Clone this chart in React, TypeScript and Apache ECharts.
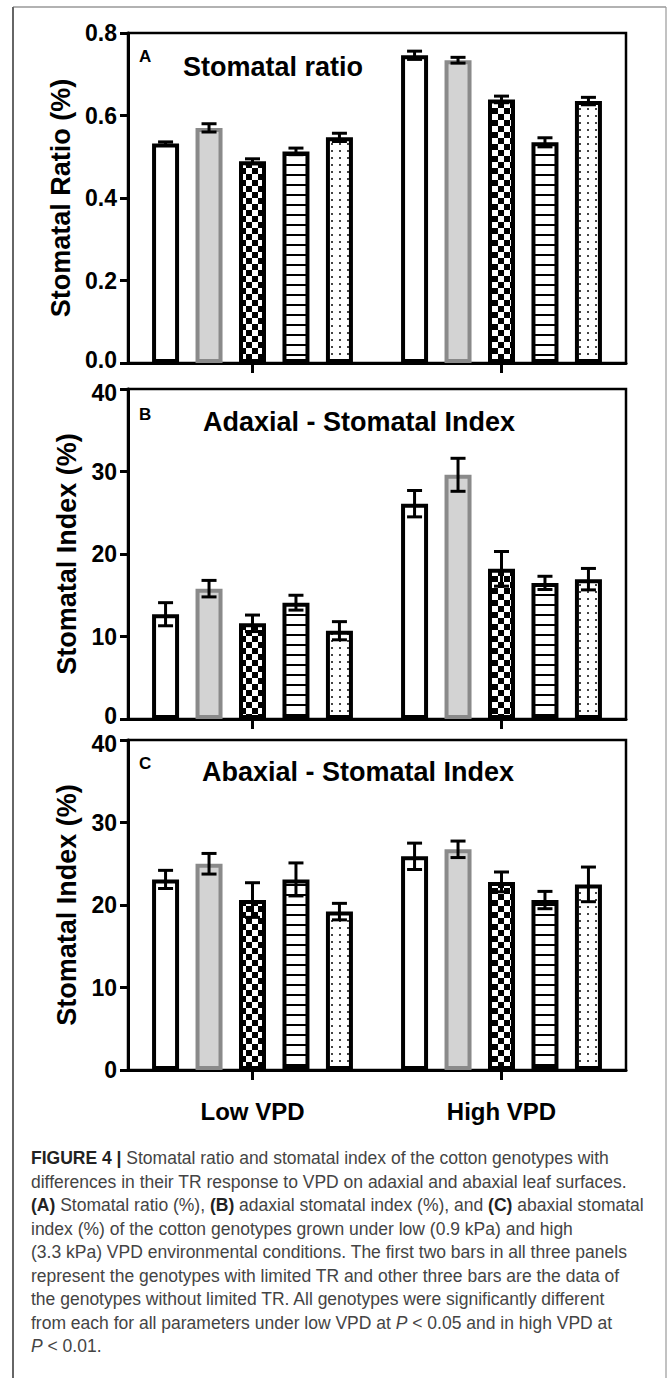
import React, { useEffect, useRef } from "react";
import * as echarts from "echarts";

const groups = ["Low VPD", "High VPD"];

// [low VPD, high VPD] for each of the 5 genotypes (bar order left to right)
const ratioMean = [
  [0.532, 0.746],
  [0.57, 0.734],
  [0.489, 0.639],
  [0.513, 0.535],
  [0.547, 0.635],
];
const ratioErr = [
  [0.004, 0.01],
  [0.01, 0.007],
  [0.006, 0.008],
  [0.008, 0.011],
  [0.01, 0.009],
];
const adaxialMean = [
  [12.7, 26.1],
  [15.8, 29.6],
  [11.6, 18.2],
  [14.1, 16.5],
  [10.7, 16.95],
];
const adaxialErr = [
  [1.4, 1.6],
  [1.0, 2.0],
  [1.0, 2.1],
  [0.9, 0.8],
  [1.1, 1.3],
];
const abaxialMean = [
  [23.1, 25.9],
  [25.0, 26.75],
  [20.6, 22.8],
  [23.1, 20.6],
  [19.2, 22.5],
];
const abaxialErr = [
  [1.1, 1.6],
  [1.25, 1.0],
  [2.1, 1.2],
  [2.0, 1.05],
  [1.0, 2.1],
];

const ratioTicks = { min: 0, max: 0.8, interval: 0.2 };
const indexTicks = { min: 0, max: 40, interval: 10 };

const panelTitles = ["Stomatal ratio", "Adaxial - Stomatal Index", "Abaxial - Stomatal Index"];
const panelLetters = ["A", "B", "C"];
const yNames = ["Stomatal Ratio (%)", "Stomatal Index (%)", "Stomatal Index (%)"];

const captionLines = [
  "{b|FIGURE 4 |} Stomatal ratio and stomatal index of the cotton genotypes with",
  "differences in their TR response to VPD on adaxial and abaxial leaf surfaces.",
  "{b|(A)} Stomatal ratio (%), {b|(B)} adaxial stomatal index (%), and {b|(C)} abaxial stomatal",
  "index (%) of the cotton genotypes grown under low (0.9 kPa) and high",
  "(3.3 kPa) VPD environmental conditions. The first two bars in all three panels",
  "represent the genotypes with limited TR and other three bars are the data of",
  "the genotypes without limited TR. All genotypes were significantly different",
  "from each for all parameters under low VPD at {i|P} < 0.05 and in high VPD at",
  "{i|P} < 0.01.",
];

const FONT = "'Liberation Sans', Arial, Helvetica, sans-serif";
const BAR_W = 27;
const BAR_GAP = 0.61;
const BAR_STEP = BAR_W * (1 + BAR_GAP);
const TICK_FS = 23;

function makePattern(w: number, h: number, draw: (ctx: CanvasRenderingContext2D) => void) {
  const c = document.createElement("canvas");
  c.width = w;
  c.height = h;
  const ctx = c.getContext("2d") as CanvasRenderingContext2D;
  ctx.fillStyle = "#ffffff";
  ctx.fillRect(0, 0, w, h);
  draw(ctx);
  return { image: c.toDataURL(), repeat: "repeat", imageWidth: w, imageHeight: h };
}

export default function App() {
  const ref = useRef<HTMLDivElement>(null);

  useEffect(() => {
    if (!ref.current) return;
    const chart = echarts.init(ref.current, undefined, { renderer: "svg" });

    const checker = makePattern(12, 12, (ctx) => {
      ctx.fillStyle = "#000";
      ctx.fillRect(0, 0, 6, 6);
      ctx.fillRect(6, 6, 6, 6);
    });
    const hlines = makePattern(8, 10, (ctx) => {
      ctx.fillStyle = "#000";
      ctx.fillRect(0, 4, 8, 2);
    });
    const dots = makePattern(8, 7, (ctx) => {
      ctx.fillStyle = "#444";
      ctx.fillRect(3, 3, 2, 2);
    });

    const fills: any[] = ["#ffffff", "#d3d3d3", checker, hlines, dots];
    const borders = ["#000", "#8a8a8a", "#000", "#000", "#000"];

    const labelBase = { fontSize: TICK_FS, fontWeight: "bold", fontFamily: FONT, color: "#000" };
    const edgeRich = {
      lo: { ...labelBase, padding: [0, 0, 7, 0] },
      hi: { ...labelBase, padding: [7, 0, 0, 0] },
    };

    const panels = [
      {
        mean: ratioMean,
        err: ratioErr,
        ticks: ratioTicks,
        top: 33,
        fmt: (v: number) => (v === 0 ? `{lo|${v.toFixed(1)}}` : v.toFixed(1)),
        gap: 53,
      },
      {
        mean: adaxialMean,
        err: adaxialErr,
        ticks: indexTicks,
        top: 389,
        fmt: (v: number) => (v === 0 ? `{lo|${v}}` : v === 40 ? `{hi|${v}}` : String(v)),
        gap: 44,
      },
      {
        mean: abaxialMean,
        err: abaxialErr,
        ticks: indexTicks,
        top: 740,
        fmt: (v: number) => (v === 40 ? `{hi|${v}}` : String(v)),
        gap: 44,
      },
    ];

    const grid = panels.map((p) => ({
      left: 128,
      width: 498,
      top: p.top,
      height: 330,
      show: true,
      borderColor: "#000",
      borderWidth: 2.5,
      backgroundColor: "transparent",
    }));

    const xAxis = panels.map((p, i) => ({
      type: "category",
      gridIndex: i,
      data: groups,
      axisLine: { show: true, lineStyle: { color: "#000", width: 3 } },
      axisTick: { show: true, alignWithLabel: true, length: 10, lineStyle: { color: "#000", width: 3 } },
      axisLabel: {
        show: i === 2,
        margin: 29,
        fontSize: 24,
        fontWeight: "bold",
        color: "#000",
        fontFamily: FONT,
      },
      splitLine: { show: false },
    }));

    const yAxis = panels.map((p, i) => ({
      type: "value",
      gridIndex: i,
      min: p.ticks.min,
      max: p.ticks.max,
      interval: p.ticks.interval,
      axisLine: { show: true, lineStyle: { color: "#000", width: 3 } },
      axisTick: { show: true, length: 8, lineStyle: { color: "#000", width: 3 } },
      splitLine: { show: false },
      axisLabel: {
        margin: 11,
        ...labelBase,
        formatter: p.fmt,
        rich: edgeRich,
      },
      name: yNames[i],
      nameLocation: "middle",
      nameGap: p.gap,
      nameTextStyle: { fontSize: 27, fontWeight: "bold", color: "#000", fontFamily: FONT },
    }));

    const series: any[] = [];
    panels.forEach((p, pi) => {
      p.mean.forEach((vals, gi) => {
        series.push({
          type: "bar",
          xAxisIndex: pi,
          yAxisIndex: pi,
          data: vals,
          barWidth: BAR_W,
          barGap: `${Math.round(BAR_GAP * 100)}%`,
          itemStyle: { color: fills[gi], borderColor: borders[gi], borderWidth: 4 },
          z: 2,
        });
      });
      const errData: number[][] = [];
      p.mean.forEach((vals, gi) => {
        vals.forEach((m, ci) => errData.push([ci, m, p.err[gi][ci], gi]));
      });
      series.push({
        type: "custom",
        xAxisIndex: pi,
        yAxisIndex: pi,
        data: errData,
        encode: { x: 0, y: 1 },
        z: 5,
        renderItem: (params: any, api: any) => {
          const cat = api.value(0);
          const m = api.value(1);
          const e = api.value(2);
          const g = api.value(3);
          const hi = api.coord([cat, m + e]);
          const lo = api.coord([cat, m - e]);
          const x = hi[0] + (g - 2) * BAR_STEP;
          const hw = 7.5;
          const st = { stroke: "#000", lineWidth: 3 };
          return {
            type: "group",
            children: [
              { type: "line", shape: { x1: x, y1: hi[1], x2: x, y2: lo[1] }, style: st },
              { type: "line", shape: { x1: x - hw, y1: hi[1], x2: x + hw, y2: hi[1] }, style: st },
              { type: "line", shape: { x1: x - hw, y1: lo[1], x2: x + hw, y2: lo[1] }, style: st },
            ],
          };
        },
      });
    });

    const titlePos = [
      { x: 273, y: 67 },
      { x: 359, y: 422 },
      { x: 358, y: 772 },
    ];
    const letterY = [56, 414, 763];

    const graphic: any[] = [];
    // page frame
    graphic.push({ type: "line", shape: { x1: 13, y1: 7, x2: 13, y2: 1378 }, style: { stroke: "#333", lineWidth: 1.5 } });
    graphic.push({ type: "line", shape: { x1: 13, y1: 7, x2: 666, y2: 7 }, style: { stroke: "#666", lineWidth: 1.2 } });
    graphic.push({ type: "line", shape: { x1: 666, y1: 7, x2: 666, y2: 1378 }, style: { stroke: "#999", lineWidth: 1.2 } });

    panelTitles.forEach((t, i) => {
      graphic.push({
        type: "text",
        x: titlePos[i].x,
        y: titlePos[i].y,
        style: {
          text: t,
          fontSize: 27,
          fontWeight: "bold",
          fontFamily: FONT,
          fill: "#000",
          align: "center",
          verticalAlign: "middle",
        },
      });
      graphic.push({
        type: "text",
        x: 139,
        y: letterY[i],
        style: {
          text: panelLetters[i],
          fontSize: 17,
          fontWeight: "bold",
          fontFamily: FONT,
          fill: "#000",
          align: "left",
          verticalAlign: "middle",
        },
      });
    });

    const capSize = 17.5;
    captionLines.forEach((line, k) => {
      graphic.push({
        type: "text",
        x: 31,
        y: 1158 + k * 23.5,
        style: {
          text: line,
          fontSize: capSize,
          fontFamily: FONT,
          fill: "#444",
          align: "left",
          verticalAlign: "middle",
          rich: {
            b: { fontSize: capSize, fontFamily: FONT, fontWeight: "bold", fill: "#222" },
            i: { fontSize: capSize, fontFamily: FONT, fontStyle: "italic", fill: "#444" },
          },
        },
      });
    });

    chart.setOption({
      animation: false,
      backgroundColor: "#ffffff",
      textStyle: { fontFamily: FONT },
      grid,
      xAxis,
      yAxis,
      series,
      graphic,
    });

    return () => chart.dispose();
  }, []);

  return (
    <div
      ref={ref}
      style={{ position: "absolute", left: 0, top: 0, width: 672, height: 1378, background: "#fff" }}
    />
  );
}
